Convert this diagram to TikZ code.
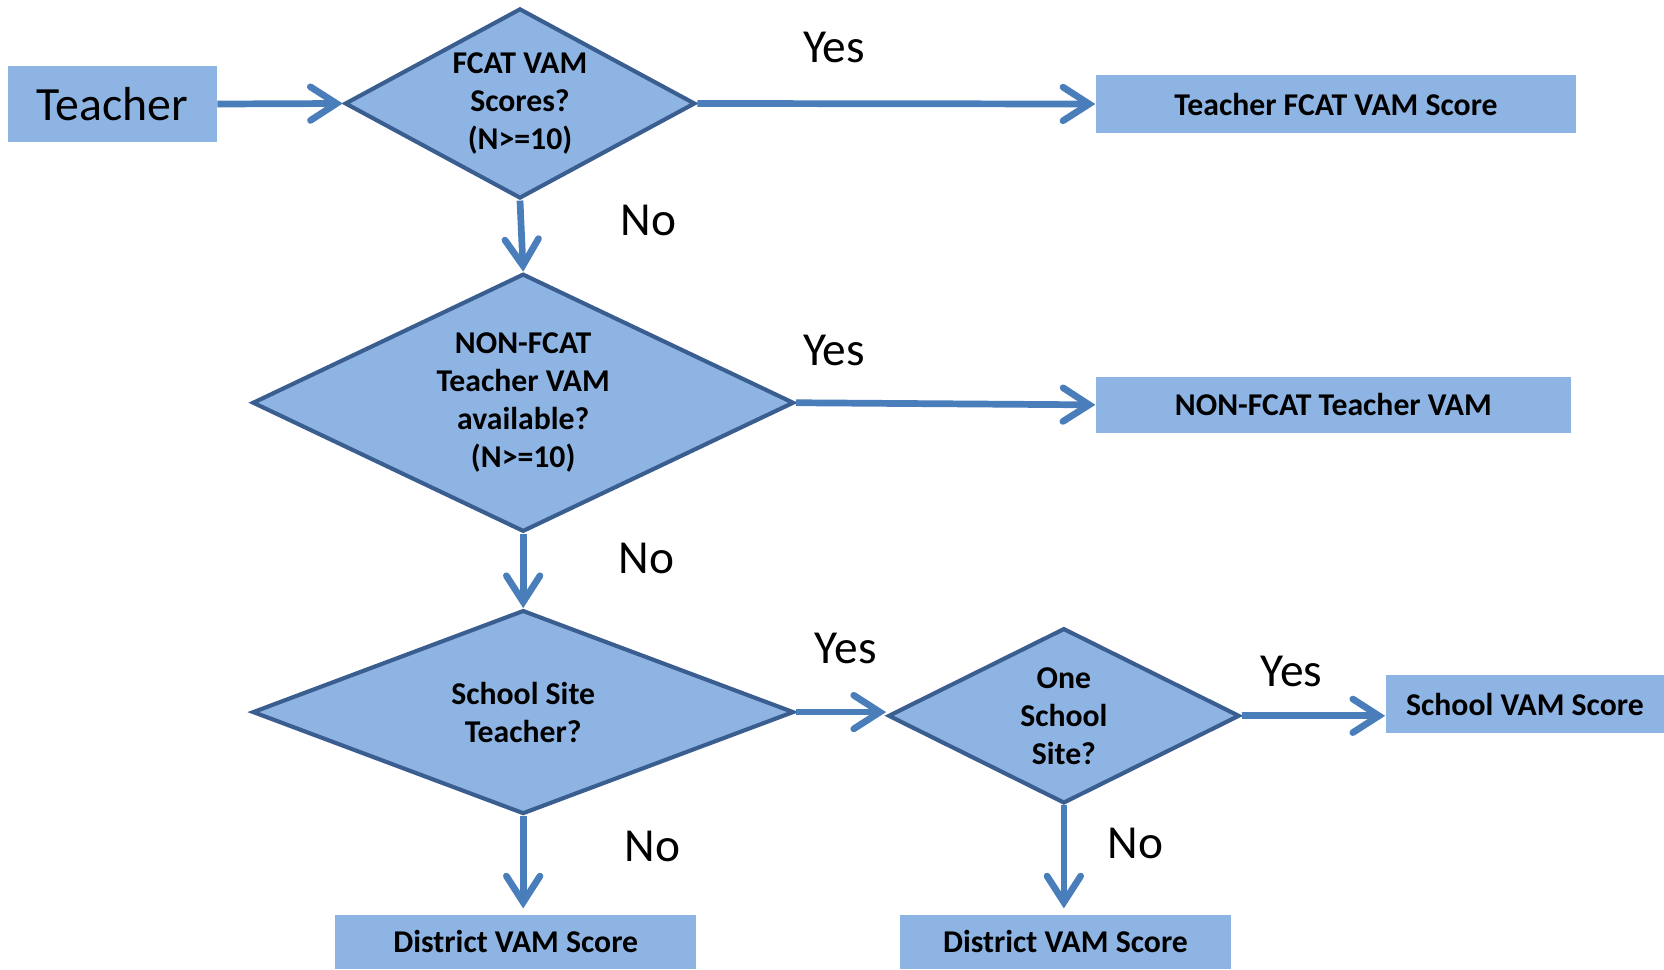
\documentclass[tikz,border=0pt]{standalone}
\usepackage{fontspec}
\setmainfont{Carlito}
\usetikzlibrary{shapes.geometric,arrows.meta}
\definecolor{boxfill}{HTML}{8EB4E3}
\definecolor{dborder}{HTML}{3B5E91}
\definecolor{arrowc}{HTML}{4A7EBB}
\begin{document}
\begin{tikzpicture}[x=0.01cm,y=-0.01cm,
 box/.style={fill=boxfill, draw=none, inner sep=0pt, font=\fontsize{8.5}{10.2}\selectfont\bfseries},
 dec/.style={diamond, fill=boxfill, draw=dborder, line width=1.1pt, inner sep=0pt, align=center, font=\fontsize{8.5}{10.2}\selectfont\bfseries},
 lbl/.style={font=\fontsize{12.7}{14}\selectfont, inner sep=0pt},
 conn/.style={draw=arrowc, line width=1.8pt, -{Straight Barb[length=7pt,width=9pt,line cap=round,line width=1.8pt]}}
]
\useasboundingbox (0,0) rectangle (1568,914);

\node[box, minimum width=1.96cm, minimum height=0.72cm, font=\fontsize{12.8}{14}\selectfont] (teacher) at (106,98) {Teacher\hspace{0.17cm}};
\node[dec, minimum width=3.30cm, minimum height=1.79cm, aspect=1.84] (d1) at (490,97.5) {FCAT VAM\\Scores?\\(N>=10)};
\node[box, minimum width=4.52cm, minimum height=0.54cm] (tfvs) at (1259,98) {Teacher FCAT VAM Score};
\node[dec, minimum width=5.10cm, minimum height=2.43cm, aspect=2.1] (d2) at (493,379.5) {NON-FCAT\\Teacher VAM\\available?\\(N>=10)};
\node[box, minimum width=4.47cm, minimum height=0.53cm] (nftv) at (1256.5,381.5) {NON-FCAT Teacher VAM};
\node[dec, minimum width=5.10cm, minimum height=1.92cm, aspect=2.66] (d3) at (493,671) {School Site\\Teacher?};
\node[dec, minimum width=3.31cm, minimum height=1.65cm, aspect=2.0] (d4) at (1002.5,674.5) {One\\School\\Site?};
\node[box, minimum width=2.62cm, minimum height=0.55cm] (svs) at (1437,663.5) {School VAM Score};
\node[box, minimum width=3.40cm, minimum height=0.51cm] (dvs1) at (486,887.5) {District VAM Score};
\node[box, minimum width=3.12cm, minimum height=0.51cm] (dvs2) at (1004,887.5) {District VAM Score};

\node[lbl] (y1) at (786,45) {Yes};
\node[lbl] (n1) at (611,208) {No};
\node[lbl] (y2) at (786,330) {Yes};
\node[lbl] (n2) at (609,526) {No};
\node[lbl] (y3) at (797,611) {Yes};
\node[lbl] (y4) at (1217,633) {Yes};
\node[lbl] (n3) at (615,798) {No};
\node[lbl] (n4) at (1070,795) {No};

\draw[conn] (teacher.east) -- (d1.west);
\draw[conn] (d1.east) -- (tfvs.west);
\draw[conn] (d1.south) -- (d2.north);
\draw[conn] (d2.east) -- (nftv.west);
\draw[conn] (d2.south) -- (d3.north);
\draw[conn] (d3.east) -- (d3.east -| d4.west);
\draw[conn] (d4.east) -- (d4.east -| svs.west);
\draw[conn, shorten >=1.5pt] (d3.south) -- (d3.south |- dvs1.north);
\draw[conn, shorten >=1.5pt] (d4.south) -- (d4.south |- dvs2.north);
\end{tikzpicture}
\end{document}
